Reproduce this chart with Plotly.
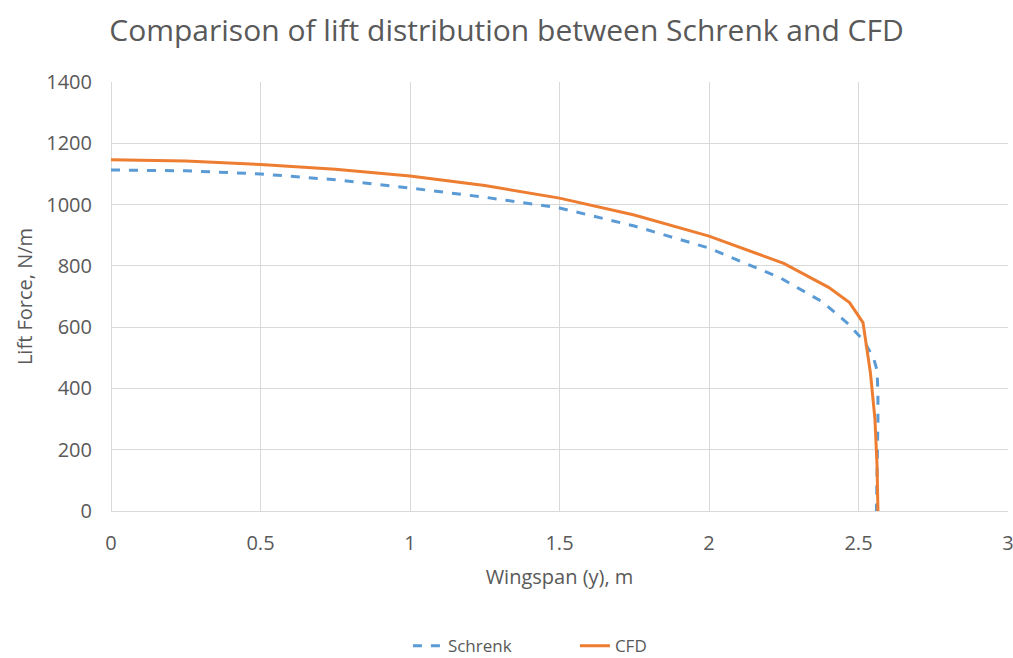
import plotly.graph_objects as go

schrenk_x = [0, 0.25, 0.5, 0.75, 1.0, 1.25, 1.5, 1.75, 2.0, 2.24, 2.38, 2.47, 2.52, 2.55, 2.562, 2.565, 2.565, 2.563, 2.56]
schrenk_y = [1113, 1110, 1100, 1081, 1054, 1024, 989, 930, 858, 760, 682, 607, 552, 500, 460, 385, 297, 157, 0]

cfd_x = [0, 0.25, 0.5, 0.75, 1.0, 1.25, 1.5, 1.75, 2.0, 2.25, 2.4, 2.47, 2.515, 2.54, 2.555, 2.562, 2.565]
cfd_y = [1146, 1142, 1131, 1115, 1093, 1062, 1021, 966, 897, 808, 730, 680, 615, 450, 300, 150, 0]

x_ticks = [0, 0.5, 1, 1.5, 2, 2.5, 3]
y_ticks = [0, 200, 400, 600, 800, 1000, 1200, 1400]

FONT = "Open Sans"
GRAY = "#595959"

fig = go.Figure()
fig.add_trace(go.Scatter(x=schrenk_x, y=schrenk_y, mode="lines", name="Schrenk",
                         line=dict(color="#5B9BD5", width=3, dash="dash")))
fig.add_trace(go.Scatter(x=cfd_x, y=cfd_y, mode="lines", name="CFD",
                         line=dict(color="#ED7D31", width=3)))

fig.update_layout(
    width=1013, height=658,
    margin=dict(l=111, r=5, t=82, b=147, autoexpand=False),
    paper_bgcolor="white", plot_bgcolor="white",
    title=dict(text="Comparison of lift distribution between Schrenk and CFD",
               x=0.5, xref="container", y=0.954, yref="container", xanchor="center", yanchor="middle",
               font=dict(family=FONT, size=30, color=GRAY)),
    font=dict(family=FONT, color=GRAY),
    legend=dict(orientation="h", x=0.331, xanchor="left", entrywidth=122, entrywidthmode="pixels",
                y=-0.315, yanchor="middle",
                font=dict(family=FONT, size=17, color=GRAY)),
    showlegend=True,
)
fig.update_xaxes(range=[0, 3], tickvals=x_ticks, ticktext=[str(v) for v in x_ticks],
                 showgrid=True, gridcolor="#D9D9D9", gridwidth=1,
                 zeroline=True, zerolinecolor="#D9D9D9", zerolinewidth=1,
                 showline=False, ticks="", ticklabelstandoff=18, ticklabeloverflow="allow",
                 tickfont=dict(size=20, color=GRAY),
                 title=dict(text="Wingspan (y), m", font=dict(size=20, color=GRAY), standoff=14))
fig.update_yaxes(range=[0, 1400], tickvals=y_ticks,
                 showgrid=True, gridcolor="#D9D9D9", gridwidth=1,
                 zeroline=True, zerolinecolor="#D9D9D9", zerolinewidth=1,
                 showline=False, ticks="", ticklabelstandoff=18, ticklabeloverflow="allow",
                 tickfont=dict(size=20, color=GRAY),
                 title=dict(text="Lift Force, N/m", font=dict(size=20, color=GRAY), standoff=8))

fig.write_html("out.html")
